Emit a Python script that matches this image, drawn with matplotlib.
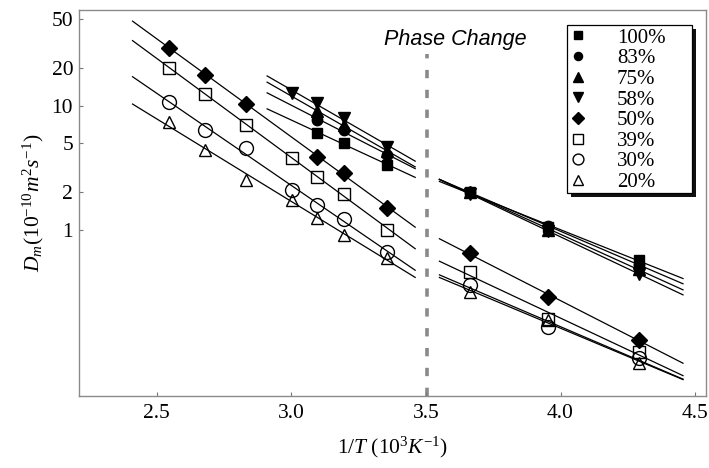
import numpy as np
import matplotlib
matplotlib.use("Agg")
import matplotlib.pyplot as plt
from matplotlib.patches import Rectangle
from matplotlib.ticker import FixedLocator, FixedFormatter

plt.rcParams['font.family'] = ['Liberation Serif', 'DejaVu Serif']
plt.rcParams['mathtext.fontset'] = 'custom'
plt.rcParams['mathtext.rm'] = 'Liberation Serif'
plt.rcParams['mathtext.it'] = 'Liberation Serif:italic'

# 1000/T positions (10^3 K^-1)
x_hot = [2.545, 2.681, 2.833, 3.003, 3.096, 3.195, 3.356]
x_warm = [3.096, 3.195, 3.356]
x_cold = [3.663, 3.953, 4.292]

labels = ['100%', '83%', '75%', '58%', '50%', '39%', '30%', '20%']

# Diffusion coefficients, 10^-10 m^2/s
d100_hot, d100_cold = [6.06, 5.0, 3.34], [2.0, 1.06, 0.57]
d83_hot, d83_cold = [7.7, 6.4, 4.0], [2.0, 1.08, 0.52]
d75_hot, d75_cold = [9.0, 7.0, 4.3], [2.0, 1.0, 0.48]
x58_hot = [3.003, 3.096, 3.195, 3.356]
d58_hot, d58_cold = [12.7, 10.6, 8.0, 4.67], [1.95, 0.98, 0.44]
x50_hot = [2.545, 2.681, 2.833, 3.096, 3.195, 3.356]
d50_hot, d50_cold = [29.4, 17.8, 10.4, 3.88, 2.88, 1.50], [0.65, 0.29, 0.13]
d39_hot, d39_cold = [20.2, 12.5, 7.0, 3.8, 2.68, 1.95, 1.0], [0.46, 0.19, 0.104]
d30_hot, d30_cold = [10.8, 6.4, 4.58, 2.1, 1.59, 1.23, 0.665], [0.36, 0.165, 0.093]
d20_hot, d20_cold = [7.4, 4.4, 2.53, 1.75, 1.25, 0.91, 0.595], [0.316, 0.188, 0.085]

series = [
    (x_warm, d100_hot, d100_cold, 's', 6.5, 'k'),
    (x_warm, d83_hot, d83_cold, 'o', 7.5, 'k'),
    (x_warm, d75_hot, d75_cold, '^', 8.5, 'k'),
    (x58_hot, d58_hot, d58_cold, 'v', 9.0, 'k'),
    (x50_hot, d50_hot, d50_cold, 'D', 7.8, 'k'),
    (x_hot, d39_hot, d39_cold, 's', 9.2, 'none'),
    (x_hot, d30_hot, d30_cold, 'o', 10.0, 'none'),
    (x_hot, d20_hot, d20_cold, '^', 8.6, 'none'),
]

fig = plt.figure(figsize=(7.09, 4.68), dpi=100)
ax = fig.add_axes([0.111, 0.154, 0.885, 0.825])
ax.set_yscale('log')
ax.set_xlim(2.21, 4.541)
ax.set_ylim(0.0458, 59.4)


def fit_line(xs, ys, x0, x1):
    k, b = np.polyfit(xs, np.log10(ys), 1)
    xx = np.array([x0, x1])
    return xx, 10 ** (k * xx + b)


for i, (xh, dh, dc, mk, ms, fc) in enumerate(series):
    start = 2.41 if len(xh) > 4 else 2.91
    xx, yy = fit_line(xh, dh, start, 3.46)
    ax.plot(xx, yy, color='k', lw=0.9, zorder=2)
    xx, yy = fit_line(x_cold, dc, 3.55, 4.455)
    ax.plot(xx, yy, color='k', lw=0.9, zorder=2)
    ax.plot(xh + x_cold, dh + dc, linestyle='none', marker=mk, ms=ms,
            mfc=fc, mec='k', mew=1.0, color='k', label=labels[i], zorder=3)

# phase transition marker
ax.plot([3.505, 3.505], [0.0458, 26], color='#8a8a8a', lw=2.6,
        dashes=(2.3, 3.2), zorder=1)
ax.text(3.608, 34, 'Phase Change', family='Liberation Sans', style='italic',
        fontsize=15.5, ha='center', va='center')

ax.xaxis.set_major_locator(FixedLocator([2.5, 3.0, 3.5, 4.0, 4.5]))
ax.xaxis.set_major_formatter(FixedFormatter(['2.5', '3.0', '3.5', '4.0', '4.5']))
ax.yaxis.set_major_locator(FixedLocator([1, 2, 5, 10, 20, 50]))
ax.yaxis.set_major_formatter(FixedFormatter(['1', '2', '5', '10', '20', '50']))
ax.yaxis.set_minor_locator(FixedLocator([]))
ax.tick_params(axis='both', which='major', direction='in', length=3,
               width=0.8, color='#777777', labelsize=15.5, pad=6)
ax.tick_params(axis='y', pad=4)
for s in ax.spines.values():
    s.set_color('#8a8a8a')
    s.set_linewidth(1.0)

ax.set_xlabel(r'$1/T\ (10^{3}K^{-1})$', fontsize=15.5, labelpad=8)
ax.set_ylabel(r'$D_m(10^{-10}m^{2}s^{-1})$', fontsize=15.5, labelpad=4)

# legend box with a drop shadow
bx0, by0, bw, bh = 0.778, 0.526, 0.200, 0.435
ax.add_patch(Rectangle((bx0 + 0.0064, by0 - 0.0104), bw, bh, transform=ax.transAxes,
                       facecolor='#111111', edgecolor='none', zorder=5))
ax.add_patch(Rectangle((bx0, by0), bw, bh, transform=ax.transAxes,
                       facecolor='white', edgecolor='k', lw=0.9, zorder=6))
leg = ax.legend(loc='upper left', bbox_to_anchor=(0.789, 0.9526), fontsize=15,
                frameon=False, borderpad=0, labelspacing=0.05,
                handlelength=0.4, handletextpad=1.68, borderaxespad=0,
                markerscale=0.78)
leg.set_zorder(7)

fig.savefig('out.png', dpi=100)
